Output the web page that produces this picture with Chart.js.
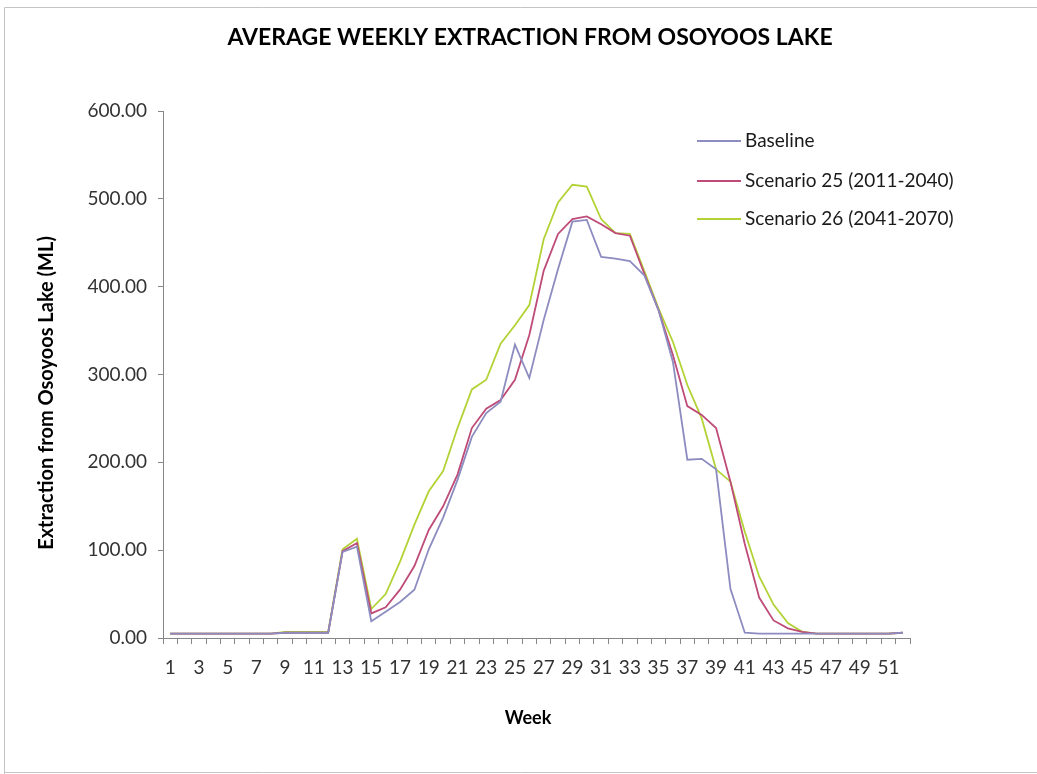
<!DOCTYPE html>
<html>
<head>
<meta charset="utf-8">
<script src="https://cdn.jsdelivr.net/npm/chart.js@4/dist/chart.umd.min.js"></script>
<style>
  html, body { margin: 0; padding: 0; background: #ffffff; }
  #wrap { width: 1037px; height: 774px; }
</style>
</head>
<body>
<div id="wrap"><canvas id="c" width="1037" height="774"></canvas></div>
<script>
const weeks = ["1","2","3","4","5","6","7","8","9","10","11","12","13","14","15","16","17","18","19","20","21","22","23","24","25","26","27","28","29","30","31","32","33","34","35","36","37","38","39","40","41","42","43","44","45","46","47","48","49","50","51","52"];
const baseline = [5,5,5,5,5,5,5,5,6,6,6,6,98,104,19,30,41,55,101,137,180,229,256,269,334,296,362,420,474,476,434,432,429,413,373,314,203,204,192,56,6,5,5,5,5,5,5,5,5,5,5,6];
const scenario25 = [5,5,5,5,5,5,5,5,6,6,6,6,99,108,28,35,55,82,123,150,186,239,261,271,294,345,418,460,477,480,471,461,458,415,373,322,264,254,239,178,107,46,20,11,7,5,5,5,5,5,5,6];
const scenario26 = [5,5,5,5,5,5,5,5,7,7,7,7,101,113,33,50,87,129,167,190,239,283,294,335,356,379,454,496,516,514,477,461,460,418,375,337,288,250,192,178,121,70,38,17,7,5,5,5,5,5,5,6];
const yTicks = [0,100,200,300,400,500,600];
const seriesNames = ["Baseline","Scenario 25 (2011-2040)","Scenario 26 (2041-2070)"];
const chartTitle = "AVERAGE WEEKLY EXTRACTION FROM OSOYOOS LAKE";
const xTitle = "Week";
const yTitle = "Extraction from Osoyoos Lake (ML)";

const colors = ["#8C8CC0", "#BE4B78", "#B2D235"];
const FONT = "Lato, 'Open Sans', sans-serif";

const decor = {
  id: 'decor',
  afterDraw(chart) {
    const ctx = chart.ctx;
    ctx.save();
    // outer frame
    ctx.strokeStyle = "#c4c4c4";
    ctx.lineWidth = 1;
    ctx.beginPath();
    ctx.moveTo(4.5, 774); ctx.lineTo(4.5, 7.5); ctx.lineTo(1037, 7.5);
    ctx.moveTo(4.5, 772.5); ctx.lineTo(1037, 772.5);
    ctx.stroke();
    // title
    ctx.fillStyle = "#000000";
    ctx.font = "bold 23px " + FONT;
    ctx.textAlign = "center";
    ctx.textBaseline = "middle";
    ctx.fillText(chartTitle, 530, 38);
    // x title
    ctx.font = "bold 18px " + FONT;
    ctx.fillText(xTitle, 528, 718);
    // y title
    ctx.save();
    ctx.translate(47, 393);
    ctx.rotate(-Math.PI / 2);
    ctx.font = "bold 20px " + FONT;
    ctx.fillText(yTitle, 0, 0);
    ctx.restore();
    // legend
    ctx.font = "19px " + FONT;
    ctx.textAlign = "left";
    const ys = [141, 181, 219];
    chart.data.datasets.forEach((ds, i) => {
      ctx.strokeStyle = ds.borderColor;
      ctx.lineWidth = 1.8;
      ctx.beginPath();
      ctx.moveTo(697, ys[i]); ctx.lineTo(741, ys[i]);
      ctx.stroke();
      ctx.fillStyle = "#1a1a1a";
      ctx.fillText(ds.label, 745, ys[i]);
    });
    ctx.restore();
  }
};

new Chart(document.getElementById('c'), {
  type: 'line',
  data: {
    labels: weeks,
    datasets: [
      { label: seriesNames[0], data: baseline, borderColor: colors[0] },
      { label: seriesNames[1], data: scenario25, borderColor: colors[1] },
      { label: seriesNames[2], data: scenario26, borderColor: colors[2] }
    ].map(d => Object.assign(d, { borderWidth: 1.8, pointRadius: 0, tension: 0, fill: false }))
  },
  options: {
    responsive: false,
    animation: false,
    devicePixelRatio: 1,
    layout: { padding: { left: 0, right: 127, top: 111, bottom: 0 } },
    plugins: { legend: { display: false }, title: { display: false }, tooltip: { enabled: false } },
    scales: {
      x: {
        type: 'category',
        offset: true,
        afterFit: s => { s.height = 774 - 638; },
        grid: { offset: true, drawOnChartArea: false, drawTicks: true, tickLength: 6, color: "#868686" },
        border: { display: true, color: "#868686", width: 1 },
        ticks: {
          autoSkip: false, maxRotation: 0, minRotation: 0, padding: 12,
          color: "#333333", font: { family: FONT, size: 19 },
          callback: function(v, i) { return i % 2 === 0 ? this.getLabelForValue(v) : ""; }
        }
      },
      y: {
        min: 0, max: 600,
        afterFit: s => { s.width = 163; },
        afterBuildTicks: s => { s.ticks = yTicks.map(v => ({ value: v })); },
        grid: { drawOnChartArea: false, drawTicks: true, tickLength: 5, color: "#868686" },
        border: { display: true, color: "#868686", width: 1 },
        ticks: {
          padding: 11, color: "#333333", font: { family: FONT, size: 19 },
          callback: v => Number(v).toFixed(2)
        }
      }
    }
  },
  plugins: [decor]
});
</script>
</body>
</html>
